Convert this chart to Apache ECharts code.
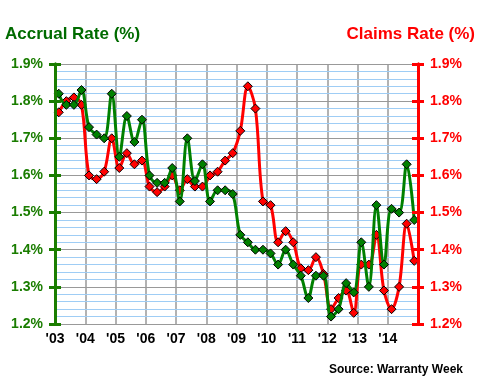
<!DOCTYPE html>
<html>
<head>
<meta charset="utf-8">
<script src="https://cdn.jsdelivr.net/npm/echarts@6/dist/echarts.min.js"></script>
<style>
html,body{margin:0;padding:0;background:#fff;}
#chart{width:480px;height:380px;}
</style>
</head>
<body>
<div id="chart"></div>
<script>
// Quarterly data, Q1 2003 .. Q4 2014
var yearLabels = ["'03","'04","'05","'06","'07","'08","'09","'10","'11","'12","'13","'14"];
var accrualRate = [1.82,1.79,1.79,1.83, 1.73,1.71,1.70,1.82, 1.65,1.76,1.69,1.75, 1.60,1.58,1.58,1.62,
                   1.53,1.70,1.585,1.63, 1.53,1.56,1.56,1.55, 1.44,1.42,1.40,1.40, 1.39,1.36,1.40,1.36,
                   1.33,1.27,1.33,1.33, 1.22,1.24,1.31,1.285, 1.42,1.30,1.52,1.36, 1.51,1.50,1.63,1.48];
var claimsRate  = [1.77,1.80,1.81,1.79, 1.60,1.59,1.61,1.70, 1.62,1.66,1.63,1.64, 1.57,1.555,1.57,1.60,
                   1.56,1.59,1.57,1.57, 1.60,1.61,1.64,1.66, 1.72,1.84,1.78,1.53, 1.52,1.42,1.45,1.42,
                   1.35,1.345,1.38,1.335, 1.24,1.27,1.29,1.23, 1.36,1.36,1.44,1.29, 1.24,1.30,1.47,1.37];
var yMin = 1.2, yMax = 1.9, yStep = 0.1;

function toPoints(arr){ return arr.map(function(v,i){ return [i+0.5, v]; }); }

var FONT = '"Liberation Sans", Arial, sans-serif';
var chart = echarts.init(document.getElementById('chart'), null, {renderer:'canvas'});

function yAx(pos, color, showLabel, tickInside, split){
  return {
    type:'value', position:pos, min:yMin, max:yMax, interval:yStep,
    axisLine:{show:true, lineStyle:{color:color, width:3}},
    axisTick:{show:true, inside:tickInside, length:6, lineStyle:{color:color, width:3}},
    axisLabel:{show:showLabel, color:color, fontSize:14, fontWeight:'bold', fontFamily:FONT, margin:12,
      formatter:function(v){return v.toFixed(1)+'%';}},
    splitLine:{show:split, lineStyle:{color:'#999999', width:1}},
    minorTick:{show:false, splitNumber:5},
    minorSplitLine:{show:split, lineStyle:{color:'#9fcdf5', width:1}},
    z: split ? 1 : 5
  };
}

chart.setOption({
  animation:false,
  backgroundColor:'#ffffff',
  title:[
    {text:'Accrual Rate (%)', left:5, top:26, padding:0,
     textStyle:{color:'#006b00', fontSize:17, fontWeight:'bold', fontFamily:FONT}},
    {text:'Claims Rate (%)', right:5, top:26, padding:0,
     textStyle:{color:'#ff0000', fontSize:17, fontWeight:'bold', fontFamily:FONT}}
  ],
  graphic:[{type:'text', right:17, top:364,
    style:{text:'Source: Warranty Week', fill:'#000', font:'bold 12px '+FONT}}],
  grid:{left:55, right:62, top:64, bottom:56, containLabel:false},
  xAxis:{
    type:'value', min:0, max:48, interval:4,
    axisLine:{show:true, lineStyle:{color:'#999999', width:1}},
    axisTick:{show:false},
    axisLabel:{color:'#000', fontSize:14, fontWeight:'bold', fontFamily:FONT, margin:8,
      showMaxLabel:true,
      formatter:function(v){ var k=Math.round(v/4); return k<yearLabels.length ? yearLabels[k] : ''; }},
    splitLine:{show:true, lineStyle:{color:'#999999', width:1.5}}
  },
  yAxis:[
    yAx('left', '#1a7d00', true, false, true),
    yAx('left', '#1a7d00', false, true, false),
    yAx('right', '#ff0000', true, false, false),
    yAx('right', '#ff0000', false, true, false)
  ],
  series:[
    {name:'Claims Rate', type:'line', yAxisIndex:2, data:toPoints(claimsRate), smooth:0.35,
     symbol:'diamond', symbolSize:9, z:3,
     lineStyle:{color:'#ff0000', width:3},
     itemStyle:{color:'#ff0000', borderColor:'#000', borderWidth:1}},
    {name:'Accrual Rate', type:'line', yAxisIndex:0, data:toPoints(accrualRate), smooth:0.35,
     symbol:'diamond', symbolSize:9, z:4,
     lineStyle:{color:'#008000', width:3},
     itemStyle:{color:'#008000', borderColor:'#000', borderWidth:1}}
  ]
});
</script>
</body>
</html>
